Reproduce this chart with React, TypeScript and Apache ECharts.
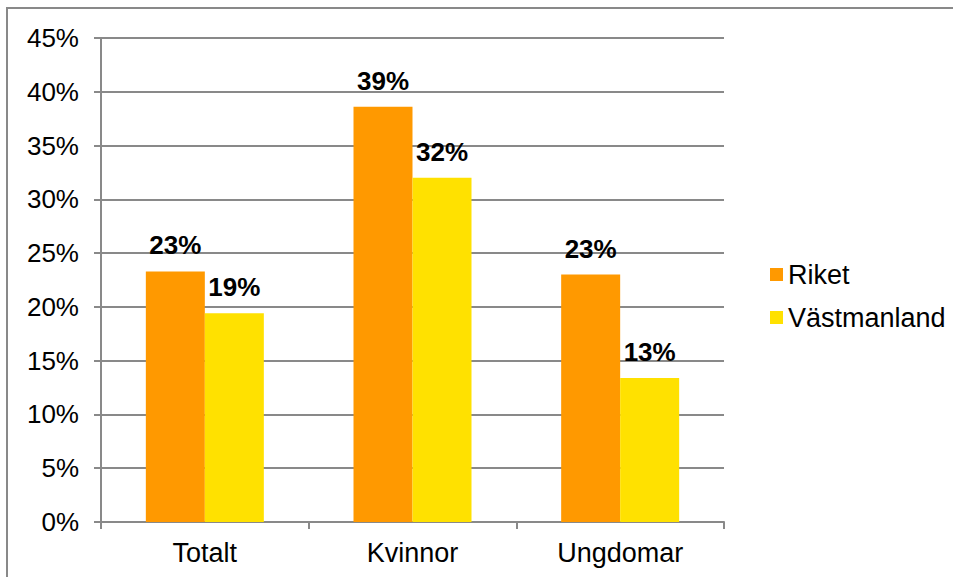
import React, { useEffect, useRef } from "react";
import * as echarts from "echarts";

const categories = ["Totalt", "Kvinnor", "Ungdomar"];
const seriesNames = ["Riket", "Västmanland"];
const riketValues = [23.3, 38.6, 23.0];
const vastmanlandValues = [19.4, 32.0, 13.4];
const yTicks = { min: 0, max: 45, interval: 5 };

const FONT = "'Liberation Sans', Arial, sans-serif";
const GRAY = "#898989";

export default function App() {
  const ref = useRef<HTMLDivElement>(null);
  useEffect(() => {
    if (!ref.current) return;
    const chart = echarts.init(ref.current, null, { renderer: "svg" });
    const labelOpt = {
      show: true,
      position: "top",
      distance: 13,
      fontFamily: FONT,
      fontSize: 26,
      fontWeight: "bold",
      color: "#000",
      formatter: (p: any) => Math.round(p.value) + "%",
    };
    chart.setOption({
      animation: false,
      backgroundColor: "#fff",
      textStyle: { fontFamily: FONT },
      graphic: [
        {
          type: "rect",
          shape: { x: 7, y: 8, width: 980, height: 620 },
          style: { fill: "none", stroke: GRAY, lineWidth: 2 },
          silent: true,
        },
      ],
      grid: { left: 101, top: 38, right: 229, bottom: 55, containLabel: false },
      legend: {
        orient: "vertical",
        left: 765,
        top: 256,
        itemWidth: 13,
        itemHeight: 13,
        itemGap: 16,
        icon: "rect",
        textStyle: { fontFamily: FONT, fontSize: 27, color: "#000" },
        data: seriesNames,
      },
      xAxis: {
        type: "category",
        data: categories,
        axisLine: { lineStyle: { color: GRAY, width: 2 } },
        axisTick: { show: true, length: 7, lineStyle: { color: GRAY, width: 2 } },
        axisLabel: { fontFamily: FONT, fontSize: 27, color: "#000", margin: 17 },
      },
      yAxis: {
        type: "value",
        min: yTicks.min,
        max: yTicks.max,
        interval: yTicks.interval,
        axisLine: { show: true, lineStyle: { color: GRAY, width: 2 } },
        axisTick: { show: true, length: 7, lineStyle: { color: GRAY, width: 2 } },
        splitLine: { show: true, lineStyle: { color: GRAY, width: 2 } },
        axisLabel: { fontFamily: FONT, fontSize: 26, color: "#000", margin: 22, formatter: "{value}%" },
      },
      series: [
        {
          name: seriesNames[0],
          type: "bar",
          data: riketValues,
          barWidth: 59,
          barGap: "0%",
          itemStyle: { color: "#FF9900" },
          label: labelOpt,
        },
        {
          name: seriesNames[1],
          type: "bar",
          data: vastmanlandValues,
          barWidth: 59,
          barGap: "0%",
          itemStyle: { color: "#FFE100" },
          label: labelOpt,
        },
      ],
    });
    return () => chart.dispose();
  }, []);
  return (
    <div
      ref={ref}
      style={{ position: "absolute", left: 0, top: 0, width: 953, height: 577 }}
    />
  );
}
